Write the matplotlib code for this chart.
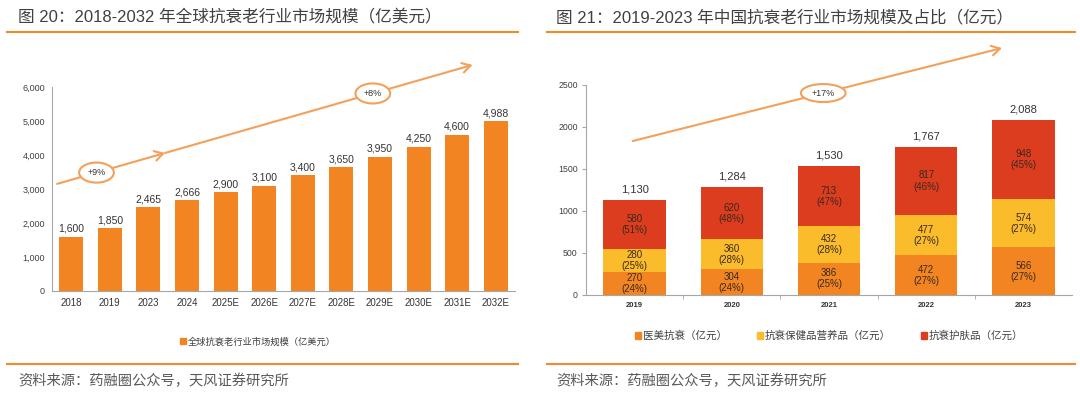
import matplotlib
matplotlib.use("Agg")
import matplotlib.pyplot as plt
from matplotlib.patches import Ellipse, Patch
from matplotlib.lines import Line2D
from matplotlib.ticker import FuncFormatter, FixedLocator

plt.rcParams["font.family"] = ["Liberation Sans", "Noto Sans CJK SC", "DejaVu Sans"]

# left chart: global anti-ageing market (100m USD)
years_g = ["2018", "2019", "2023", "2024", "2025E", "2026E", "2027E",
           "2028E", "2029E", "2030E", "2031E", "2032E"]
market_g = [1600, 1850, 2465, 2666, 2900, 3100, 3400, 3650, 3950, 4250, 4600, 4988]

# right chart: China anti-ageing market (100m CNY)
years_c = ["2019", "2020", "2021", "2022", "2023"]
med = [270, 304, 386, 472, 566]
med_pct = ["24%", "24%", "25%", "27%", "27%"]
supp = [280, 360, 432, 477, 574]
supp_pct = ["25%", "28%", "28%", "27%", "27%"]
skin = [580, 620, 713, 817, 948]
skin_pct = ["51%", "48%", "47%", "46%", "45%"]
total_c = [1130, 1284, 1530, 1767, 2088]

ORANGE = "#F28522"
YELLOW = "#FBBC2B"
RED = "#DC3D1E"
ARROW = "#F4A05A"
LINE = "#F08A2C"
TXT = "#404040"

W, H = 1080, 395
fig = plt.figure(figsize=(W / 100, H / 100), dpi=100)


def px(x0, y0, x1, y1):
    # pixel box (top-left origin) -> figure fraction rect
    return [x0 / W, 1 - y1 / H, (x1 - x0) / W, (y1 - y0) / H]


# ---------------- headers / footers ----------------
fig.text(18 / W, 1 - 17 / H, "图 20：2018-2032 年全球抗衰老行业市场规模（亿美元）",
         fontsize=12, color=TXT, va="center", ha="left", fontweight="medium")
fig.text(556 / W, 1 - 17 / H, "图 21：2019-2023 年中国抗衰老行业市场规模及占比（亿元）",
         fontsize=12, color=TXT, va="center", ha="left", fontweight="medium")
for xa, xb in [(7, 518), (547, 1075)]:
    fig.add_artist(Line2D([xa / W, xb / W], [1 - 32 / H] * 2, color=LINE, lw=1.5))
    fig.add_artist(Line2D([xa / W, xb / W], [1 - 364 / H] * 2, color=LINE, lw=1.5))
fig.text(18 / W, 1 - 381 / H, "资料来源：药融圈公众号，天风证券研究所",
         fontsize=10.3, color="#595959", va="center", ha="left")
fig.text(556 / W, 1 - 381 / H, "资料来源：药融圈公众号，天风证券研究所",
         fontsize=10.3, color="#595959", va="center", ha="left")

# ---------------- left chart ----------------
ax1 = fig.add_axes(px(52, 87, 515, 291))
xg = range(len(years_g))
bars = ax1.bar(xg, market_g, width=0.62, color=ORANGE, zorder=2)
for x, v in zip(xg, market_g):
    ax1.annotate(f"{v:,}", (x, v), xytext=(0, 2), textcoords="offset points",
                 ha="center", va="bottom", fontsize=7.5, color="#333333")
ax1.set_xlim(-0.5, len(years_g) - 0.5)
ax1.set_ylim(0, 6000)
ax1.set_yticks(range(0, 6001, 1000))
ax1.yaxis.set_major_formatter(FuncFormatter(lambda v, p: f"{int(v):,}"))
ax1.set_xticks(list(xg))
ax1.set_xticklabels(years_g)
ax1.tick_params(axis="x", length=0, labelsize=7, colors="#333333", pad=5)
ax1.tick_params(axis="y", length=0, labelsize=6.5, colors="#404040", pad=5)
for s in ["top", "right"]:
    ax1.spines[s].set_visible(False)
for s in ["left", "bottom"]:
    ax1.spines[s].set_color("#A6A6A6")
    ax1.spines[s].set_linewidth(0.8)

# growth arrow with mid chevron
sx, sy, ex, ey = -0.37, 3150, 10.4, 6650
mt = 0.26
mx, my = sx + (ex - sx) * mt, sy + (ey - sy) * mt
for (ax_, ay_), (bx_, by_) in [((sx, sy), (mx, my)), ((mx, my), (ex, ey))]:
    ax1.annotate("", xy=(bx_, by_), xytext=(ax_, ay_), annotation_clip=False,
                 arrowprops=dict(arrowstyle="->,head_length=0.6,head_width=0.35",
                                 color=ARROW, lw=1.5, shrinkA=0, shrinkB=0))
for t, lbl in [(0.095, "+9%"), (0.76, "+8%")]:
    cx, cy = sx + (ex - sx) * t, sy + (ey - sy) * t
    ax1.add_patch(Ellipse((cx, cy), 0.9, 590, fc="white", ec=ARROW, lw=1.5,
                          zorder=5, clip_on=False))
    ax1.text(cx, cy, lbl, ha="center", va="center", fontsize=6.5, color="#333333",
             zorder=6, clip_on=False)

fig.legend(handles=[Patch(color=ORANGE, label="全球抗衰老行业市场规模（亿美元）")],
           loc="center", bbox_to_anchor=(258 / W, 1 - 342 / H), frameon=False,
           fontsize=6.7, handlelength=0.6, handleheight=0.6, handletextpad=0.2,
           labelcolor="#404040")

# ---------------- right chart ----------------
ax2 = fig.add_axes(px(586, 85, 1072, 295))
xc = range(len(years_c))
bw = 0.64
base2 = med
base3 = [a + b for a, b in zip(med, supp)]
ax2.bar(xc, med, width=bw, color=ORANGE, zorder=2)
ax2.bar(xc, supp, width=bw, bottom=base2, color=YELLOW, zorder=2)
ax2.bar(xc, skin, width=bw, bottom=base3, color=RED, zorder=2)
for x in xc:
    for v, pct, b in [(med[x], med_pct[x], 0), (supp[x], supp_pct[x], base2[x]),
                      (skin[x], skin_pct[x], base3[x])]:
        ax2.text(x, b + v / 2, f"{v}\n({pct})", ha="center", va="center",
                 fontsize=7, color="#3a2a20", linespacing=1.15, zorder=3)
    top = base3[x] + skin[x]
    ax2.annotate(f"{total_c[x]:,}", (x, top), xytext=(0, 4), textcoords="offset points",
                 ha="center", va="bottom", fontsize=8, color="#333333")
ax2.set_xlim(-0.5, len(years_c) - 0.5)
ax2.set_ylim(0, 2500)
ax2.set_yticks(range(0, 2501, 500))
ax2.set_xticks(list(xc))
ax2.set_xticklabels(years_c, fontweight="bold")
ax2.xaxis.set_minor_locator(FixedLocator([i + 0.5 for i in range(len(years_c) - 1)]))
ax2.tick_params(axis="x", which="major", length=0, labelsize=5.5, colors="#333333", pad=5)
ax2.tick_params(axis="x", which="minor", length=3, color="#A6A6A6")
ax2.tick_params(axis="y", length=3, labelsize=6.3, colors="#404040", pad=3)
ax2.tick_params(axis="y", color="#A6A6A6")
for s in ["top", "right"]:
    ax2.spines[s].set_visible(False)
for s in ["left", "bottom"]:
    ax2.spines[s].set_color("#A6A6A6")
    ax2.spines[s].set_linewidth(0.8)

sx, sy, ex, ey = -0.02, 1833, 3.78, 2940
ax2.annotate("", xy=(ex, ey), xytext=(sx, sy), annotation_clip=False,
             arrowprops=dict(arrowstyle="->,head_length=0.6,head_width=0.35",
                             color=ARROW, lw=1.5, shrinkA=0, shrinkB=0))
t = 0.516
cx, cy = sx + (ex - sx) * t, sy + (ey - sy) * t
ax2.add_patch(Ellipse((cx, cy), 0.46, 214, fc="white", ec=ARROW, lw=1.5,
                      zorder=5, clip_on=False))
ax2.text(cx, cy, "+17%", ha="center", va="center", fontsize=6.5, color="#333333",
         zorder=6, clip_on=False)

fig.legend(handles=[Patch(color=ORANGE, label="医美抗衰（亿元）"),
                    Patch(color=YELLOW, label="抗衰保健品营养品（亿元）"),
                    Patch(color=RED, label="抗衰护肤品（亿元）")],
           loc="center", bbox_to_anchor=(829 / W, 1 - 336 / H), frameon=False, ncol=3,
           fontsize=7.6, handlelength=0.6, handleheight=0.6, handletextpad=0.2,
           columnspacing=2.8, labelcolor="#404040")

fig.savefig("out.png", dpi=100)
